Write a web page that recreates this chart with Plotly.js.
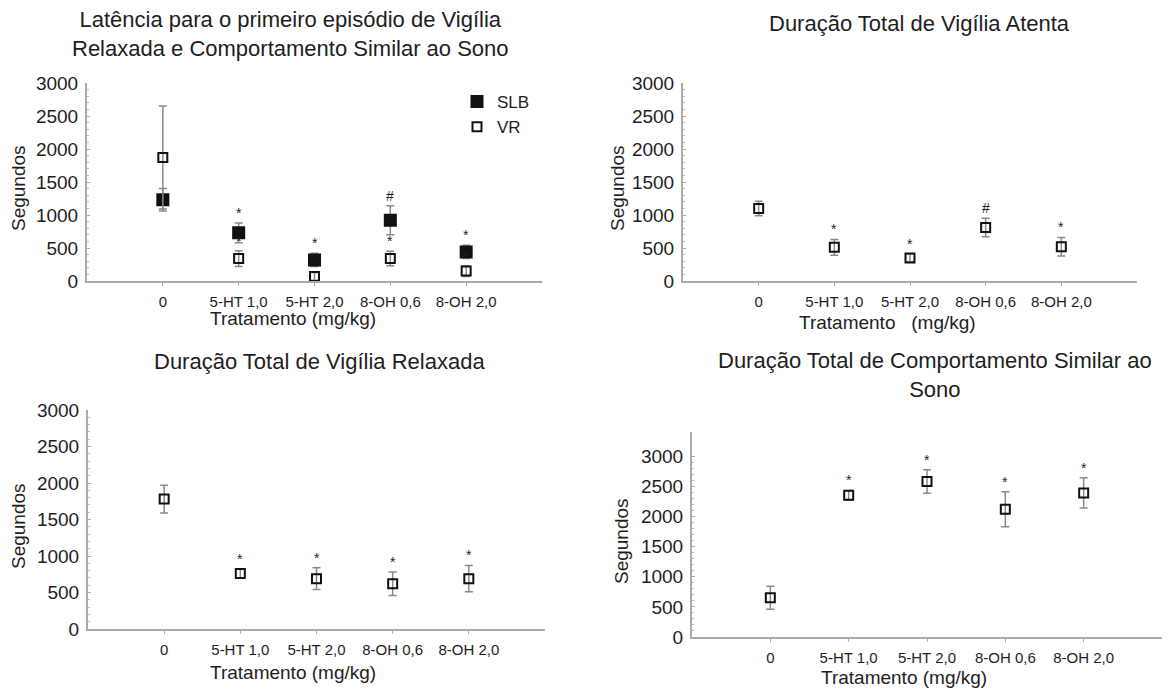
<!DOCTYPE html>
<html>
<head>
<meta charset="utf-8">
<script src="https://cdn.plot.ly/plotly-3.0.1.min.js"></script>
<style>html,body{margin:0;padding:0;background:#fff;}#chart{width:1172px;height:691px;}</style>
</head>
<body>
<div id="chart"></div>
<script>
// ---- data ----
const categories = ['0', '5-HT 1,0', '5-HT 2,0', '8-OH 0,6', '8-OH 2,0'];
const yTicks = [0, 500, 1000, 1500, 2000, 2500, 3000];

// Panel 1: Latência
const latSLB = [1230, 730, 320, 920, 440];
const latSLBerr = [170, 150, 100, 220, 100];
const latSLBsig = ['', '*', '*', '#', '*'];
const latVR = [1870, 340, 70, 340, 150];
const latVRerr = [780, 120, 60, 110, 80];
const latVRsig = ['', '*', '', '*', '*'];

// Panel 2: Vigília Atenta
const atenta = [1100, 510, 350, 810, 520];
const atentaErr = [110, 120, 60, 140, 140];
const atentaSig = ['', '*', '*', '#', '*'];

// Panel 3: Vigília Relaxada
const relax = [1780, 760, 690, 620, 690];
const relaxErr = [190, 60, 150, 160, 180];
const relaxSig = ['', '*', '*', '*', '*'];

// Panel 4: Comportamento Similar ao Sono
const sono = [650, 2350, 2580, 2120, 2390];
const sonoErr = [190, 80, 195, 290, 250];
const sonoSig = ['', '*', '*', '*', '*'];

const titles = [
  'Latência para o primeiro episódio de Vigília<br>Relaxada e Comportamento Similar ao Sono',
  'Duração Total de Vigília Atenta',
  'Duração Total de Vigília Relaxada',
  'Duração Total de Comportamento Similar ao<br>Sono'
];
const xTitles = ['Tratamento (mg/kg)', 'Tratamento   (mg/kg)', 'Tratamento (mg/kg)', 'Tratamento (mg/kg)'];
const yTitle = 'Segundos';

// ---- layout helpers ----
const W = 1172, H = 691;
const FONT = 'Liberation Sans, Arial, sans-serif';
const TXT = '#1e1e1e';
const px = x => x / W;
const py = y => 1 - y / H;

// panel boxes in pixels: [left, right, top, bottom]
const boxes = [
  [87, 542, 83, 281],
  [683, 1137, 83, 281],
  [88, 545, 410, 629],
  [692, 1162, 432, 637]
];
const yRanges = [[0, 3000], [0, 3000], [0, 3000], [0, 3400]];

function mkTrace(vals, errs, ax, name, filled, show) {
  return {
    type: 'scatter', mode: 'markers', name: name, showlegend: show,
    x: categories, y: vals,
    xaxis: 'x' + ax, yaxis: 'y' + ax,
    error_y: {type: 'data', array: errs, visible: true, color: '#8a8a8a', thickness: 1.5, width: 4},
    marker: {symbol: filled ? 'square' : 'square-open', size: filled ? 11 : 9, color: '#111',
             line: {color: '#111', width: 2}}
  };
}

const traces = [
  mkTrace(latSLB, latSLBerr, '', 'SLB', true, true),
  mkTrace(latVR, latVRerr, '', 'VR', false, true),
  mkTrace(atenta, atentaErr, '2', 'VR', false, false),
  mkTrace(relax, relaxErr, '3', 'VR', false, false),
  mkTrace(sono, sonoErr, '4', 'VR', false, false)
];

const layout = {
  width: W, height: H,
  margin: {l: 0, r: 0, t: 0, b: 0},
  paper_bgcolor: '#fff', plot_bgcolor: '#fff',
  font: {family: FONT, color: TXT},
  showlegend: true,
  legend: {x: px(457), y: py(84), xanchor: 'left', yanchor: 'top', bgcolor: 'rgba(0,0,0,0)',
           font: {size: 17, family: FONT, color: TXT}, itemwidth: 30, tracegroupgap: 0},
  annotations: []
};

boxes.forEach((b, i) => {
  const k = i === 0 ? '' : String(i + 1);
  layout['xaxis' + k] = {
    domain: [px(b[0]), px(b[1])], anchor: 'y' + k, type: 'category',
    range: [-1, 5], showgrid: false, zeroline: false,
    showline: true, linecolor: '#ababab', linewidth: 2,
    ticks: 'outside', ticklen: 3, tickcolor: '#ababab',
    tickfont: {size: 15, family: FONT, color: TXT}, ticklabelstandoff: 3
  };
  layout['yaxis' + k] = {
    domain: [py(b[3]), py(b[2])], anchor: 'x' + k,
    range: yRanges[i], tickvals: yTicks, showgrid: false, zeroline: false,
    showline: true, linecolor: '#ababab', linewidth: 2,
    ticks: 'inside', ticklen: 3, tickcolor: '#ababab',
    minor: {tickvals: Array.from({length: 31}, (_, j) => j * 100), ticks: 'inside', ticklen: 2, tickcolor: '#bbb'},
    tickfont: {size: 19, family: FONT, color: TXT}, ticklabelstandoff: 3
  };
});

// titles
const titlePos = [[290, 34], [919, 23], [319, 362], [935, 375]];
titles.forEach((t, i) => {
  layout.annotations.push({text: t, xref: 'paper', yref: 'paper', x: px(titlePos[i][0]), y: py(titlePos[i][1]),
    xanchor: 'center', yanchor: 'middle', showarrow: false, align: 'center',
    font: {size: 22, family: FONT, color: TXT}});
});
// axis titles
const xTitlePos = [[293, 319], [888, 322], [293, 672], [904, 677]];
const yTitlePos = [[18, 188], [617, 188], [18, 526], [621, 541]];
for (let i = 0; i < 4; i++) {
  layout.annotations.push({text: xTitles[i], xref: 'paper', yref: 'paper', x: px(xTitlePos[i][0]), y: py(xTitlePos[i][1]),
    xanchor: 'center', yanchor: 'middle', showarrow: false, font: {size: 19, family: FONT, color: TXT}});
  layout.annotations.push({text: yTitle, xref: 'paper', yref: 'paper', x: px(yTitlePos[i][0]), y: py(yTitlePos[i][1]),
    xanchor: 'center', yanchor: 'middle', showarrow: false, textangle: -90, font: {size: 19, family: FONT, color: TXT}});
}

// significance marks
function addSig(vals, errs, sigs, ax) {
  sigs.forEach((s, j) => {
    if (!s) return;
    layout.annotations.push({text: s, x: categories[j], y: vals[j] + errs[j], xref: 'x' + ax, yref: 'y' + ax,
      xanchor: 'center', yanchor: 'bottom', yshift: 0, showarrow: false,
      font: {size: 14, family: FONT, color: TXT}});
  });
}
addSig(latSLB, latSLBerr, latSLBsig, '');
addSig(latVR, latVRerr, latVRsig, '');
addSig(atenta, atentaErr, atentaSig, '2');
addSig(relax, relaxErr, relaxSig, '3');
addSig(sono, sonoErr, sonoSig, '4');

Plotly.newPlot('chart', traces, layout, {displayModeBar: false, staticPlot: true});
</script>
</body>
</html>
